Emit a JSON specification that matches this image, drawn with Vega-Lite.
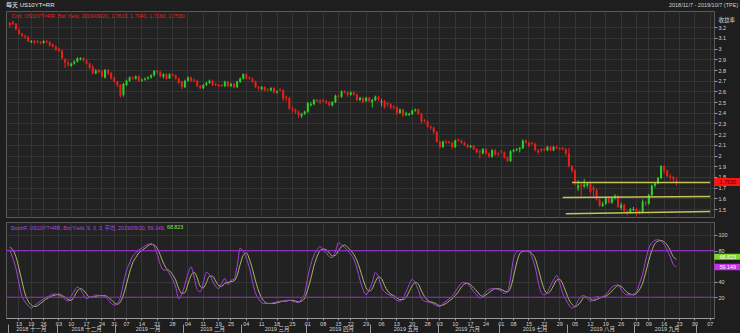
{
  "$schema": "https://vega.github.io/schema/vega-lite/v6.json",
  "background": "#1e1e1e",
  "padding": {"left": 5, "top": 2, "right": 0, "bottom": 0},
  "params": [{"name": "days", "value": ["2018-11-07","2018-11-08","2018-11-09","2018-11-13","2018-11-14","2018-11-15","2018-11-16","2018-11-19","2018-11-20","2018-11-21","2018-11-23","2018-11-26","2018-11-27","2018-11-28","2018-11-29","2018-11-30","2018-12-03","2018-12-04","2018-12-06","2018-12-07","2018-12-10","2018-12-11","2018-12-12","2018-12-13","2018-12-14","2018-12-17","2018-12-18","2018-12-19","2018-12-20","2018-12-21","2018-12-24","2018-12-26","2018-12-27","2018-12-28","2018-12-31","2019-01-02","2019-01-03","2019-01-04","2019-01-07","2019-01-08","2019-01-09","2019-01-10","2019-01-11","2019-01-14","2019-01-15","2019-01-16","2019-01-17","2019-01-18","2019-01-21","2019-01-22","2019-01-23","2019-01-24","2019-01-25","2019-01-28","2019-01-29","2019-01-30","2019-01-31","2019-02-01","2019-02-04","2019-02-05","2019-02-06","2019-02-07","2019-02-08","2019-02-11","2019-02-12","2019-02-13","2019-02-14","2019-02-15","2019-02-19","2019-02-20","2019-02-21","2019-02-22","2019-02-25","2019-02-26","2019-02-27","2019-02-28","2019-03-01","2019-03-04","2019-03-05","2019-03-06","2019-03-07","2019-03-08","2019-03-11","2019-03-12","2019-03-13","2019-03-14","2019-03-15","2019-03-18","2019-03-19","2019-03-20","2019-03-21","2019-03-22","2019-03-25","2019-03-26","2019-03-27","2019-03-28","2019-03-29","2019-04-01","2019-04-02","2019-04-03","2019-04-04","2019-04-05","2019-04-08","2019-04-09","2019-04-10","2019-04-11","2019-04-12","2019-04-15","2019-04-16","2019-04-17","2019-04-18","2019-04-22","2019-04-23","2019-04-24","2019-04-25","2019-04-26","2019-04-29","2019-04-30","2019-05-01","2019-05-02","2019-05-03","2019-05-06","2019-05-07","2019-05-08","2019-05-09","2019-05-10","2019-05-13","2019-05-14","2019-05-15","2019-05-16","2019-05-17","2019-05-20","2019-05-21","2019-05-22","2019-05-23","2019-05-24","2019-05-28","2019-05-29","2019-05-30","2019-05-31","2019-06-03","2019-06-04","2019-06-05","2019-06-06","2019-06-07","2019-06-10","2019-06-11","2019-06-12","2019-06-13","2019-06-14","2019-06-17","2019-06-18","2019-06-19","2019-06-20","2019-06-21","2019-06-24","2019-06-25","2019-06-26","2019-06-27","2019-06-28","2019-07-01","2019-07-02","2019-07-03","2019-07-05","2019-07-08","2019-07-09","2019-07-10","2019-07-11","2019-07-12","2019-07-15","2019-07-16","2019-07-17","2019-07-18","2019-07-19","2019-07-22","2019-07-23","2019-07-24","2019-07-25","2019-07-26","2019-07-29","2019-07-30","2019-07-31","2019-08-01","2019-08-02","2019-08-05","2019-08-06","2019-08-07","2019-08-08","2019-08-09","2019-08-12","2019-08-13","2019-08-14","2019-08-15","2019-08-16","2019-08-19","2019-08-20","2019-08-21","2019-08-22","2019-08-23","2019-08-26","2019-08-27","2019-08-28","2019-08-29","2019-08-30","2019-09-03","2019-09-04","2019-09-05","2019-09-06","2019-09-09","2019-09-10","2019-09-11","2019-09-12","2019-09-13","2019-09-16","2019-09-17","2019-09-18","2019-09-19","2019-09-20","2019-09-23","2019-09-24","2019-09-25","2019-09-26","2019-09-27","2019-09-30","2019-10-01","2019-10-02","2019-10-03","2019-10-04","2019-10-07"]}],
  "title": {"text": "每天 US10YT=RR", "anchor": "start", "frame": "group", "fontSize": 6, "color": "#e6e6e6", "offset": -6},
  "spacing": 3,
  "datasets": {
    "candles": [
      {"date":"2018-11-07","o":3.24,"h":3.25,"l":3.2,"c":3.22},
      {"date":"2018-11-08","o":3.25,"h":3.26,"l":3.22,"c":3.23},
      {"date":"2018-11-09","o":3.23,"h":3.24,"l":3.17,"c":3.18},
      {"date":"2018-11-13","o":3.17,"h":3.19,"l":3.13,"c":3.14},
      {"date":"2018-11-14","o":3.14,"h":3.15,"l":3.11,"c":3.12},
      {"date":"2018-11-15","o":3.12,"h":3.13,"l":3.09,"c":3.11},
      {"date":"2018-11-16","o":3.11,"h":3.12,"l":3.06,"c":3.07},
      {"date":"2018-11-19","o":3.06,"h":3.08,"l":3.05,"c":3.07},
      {"date":"2018-11-20","o":3.07,"h":3.08,"l":3.04,"c":3.06},
      {"date":"2018-11-21","o":3.07,"h":3.08,"l":3.05,"c":3.06},
      {"date":"2018-11-23","o":3.06,"h":3.07,"l":3.04,"c":3.05},
      {"date":"2018-11-26","o":3.05,"h":3.08,"l":3.05,"c":3.07},
      {"date":"2018-11-27","o":3.07,"h":3.08,"l":3.05,"c":3.06},
      {"date":"2018-11-28","o":3.06,"h":3.07,"l":3.02,"c":3.03},
      {"date":"2018-11-29","o":3.04,"h":3.05,"l":3.01,"c":3.02},
      {"date":"2018-11-30","o":3.02,"h":3.03,"l":2.98,"c":2.99},
      {"date":"2018-12-03","o":3.0,"h":3.01,"l":2.97,"c":2.98},
      {"date":"2018-12-04","o":2.98,"h":2.99,"l":2.9,"c":2.91},
      {"date":"2018-12-06","o":2.9,"h":2.91,"l":2.82,"c":2.87},
      {"date":"2018-12-07","o":2.87,"h":2.89,"l":2.83,"c":2.85},
      {"date":"2018-12-10","o":2.84,"h":2.87,"l":2.83,"c":2.86},
      {"date":"2018-12-11","o":2.86,"h":2.89,"l":2.85,"c":2.88},
      {"date":"2018-12-12","o":2.88,"h":2.92,"l":2.87,"c":2.91},
      {"date":"2018-12-13","o":2.9,"h":2.92,"l":2.89,"c":2.91},
      {"date":"2018-12-14","o":2.91,"h":2.92,"l":2.88,"c":2.89},
      {"date":"2018-12-17","o":2.89,"h":2.9,"l":2.85,"c":2.86},
      {"date":"2018-12-18","o":2.86,"h":2.87,"l":2.81,"c":2.82},
      {"date":"2018-12-19","o":2.83,"h":2.85,"l":2.76,"c":2.77},
      {"date":"2018-12-20","o":2.77,"h":2.81,"l":2.76,"c":2.79},
      {"date":"2018-12-21","o":2.8,"h":2.81,"l":2.77,"c":2.78},
      {"date":"2018-12-24","o":2.79,"h":2.8,"l":2.73,"c":2.74},
      {"date":"2018-12-26","o":2.73,"h":2.81,"l":2.72,"c":2.8},
      {"date":"2018-12-27","o":2.8,"h":2.81,"l":2.75,"c":2.77},
      {"date":"2018-12-28","o":2.77,"h":2.78,"l":2.71,"c":2.72},
      {"date":"2018-12-31","o":2.73,"h":2.74,"l":2.68,"c":2.69},
      {"date":"2019-01-02","o":2.69,"h":2.7,"l":2.64,"c":2.66},
      {"date":"2019-01-03","o":2.66,"h":2.67,"l":2.54,"c":2.56},
      {"date":"2019-01-04","o":2.57,"h":2.68,"l":2.55,"c":2.67},
      {"date":"2019-01-07","o":2.66,"h":2.71,"l":2.65,"c":2.7},
      {"date":"2019-01-08","o":2.7,"h":2.74,"l":2.69,"c":2.73},
      {"date":"2019-01-09","o":2.73,"h":2.74,"l":2.71,"c":2.72},
      {"date":"2019-01-10","o":2.72,"h":2.75,"l":2.71,"c":2.74},
      {"date":"2019-01-11","o":2.74,"h":2.75,"l":2.69,"c":2.7},
      {"date":"2019-01-14","o":2.7,"h":2.72,"l":2.69,"c":2.71},
      {"date":"2019-01-15","o":2.71,"h":2.73,"l":2.7,"c":2.72},
      {"date":"2019-01-16","o":2.72,"h":2.74,"l":2.71,"c":2.73},
      {"date":"2019-01-17","o":2.73,"h":2.76,"l":2.72,"c":2.75},
      {"date":"2019-01-18","o":2.75,"h":2.8,"l":2.74,"c":2.79},
      {"date":"2019-01-21","o":2.79,"h":2.8,"l":2.76,"c":2.78},
      {"date":"2019-01-22","o":2.78,"h":2.79,"l":2.73,"c":2.74},
      {"date":"2019-01-23","o":2.74,"h":2.77,"l":2.72,"c":2.76},
      {"date":"2019-01-24","o":2.76,"h":2.77,"l":2.71,"c":2.72},
      {"date":"2019-01-25","o":2.72,"h":2.77,"l":2.72,"c":2.76},
      {"date":"2019-01-28","o":2.76,"h":2.77,"l":2.74,"c":2.75},
      {"date":"2019-01-29","o":2.75,"h":2.76,"l":2.71,"c":2.72},
      {"date":"2019-01-30","o":2.72,"h":2.73,"l":2.67,"c":2.68},
      {"date":"2019-01-31","o":2.69,"h":2.7,"l":2.62,"c":2.64},
      {"date":"2019-02-01","o":2.64,"h":2.71,"l":2.63,"c":2.7},
      {"date":"2019-02-04","o":2.7,"h":2.74,"l":2.69,"c":2.73},
      {"date":"2019-02-05","o":2.73,"h":2.74,"l":2.69,"c":2.7},
      {"date":"2019-02-06","o":2.71,"h":2.72,"l":2.69,"c":2.7},
      {"date":"2019-02-07","o":2.7,"h":2.71,"l":2.64,"c":2.65},
      {"date":"2019-02-08","o":2.65,"h":2.66,"l":2.62,"c":2.63},
      {"date":"2019-02-11","o":2.63,"h":2.67,"l":2.62,"c":2.66},
      {"date":"2019-02-12","o":2.66,"h":2.69,"l":2.65,"c":2.68},
      {"date":"2019-02-13","o":2.68,"h":2.71,"l":2.67,"c":2.7},
      {"date":"2019-02-14","o":2.7,"h":2.71,"l":2.65,"c":2.66},
      {"date":"2019-02-15","o":2.67,"h":2.68,"l":2.65,"c":2.66},
      {"date":"2019-02-19","o":2.66,"h":2.67,"l":2.64,"c":2.65},
      {"date":"2019-02-20","o":2.66,"h":2.67,"l":2.64,"c":2.65},
      {"date":"2019-02-21","o":2.65,"h":2.7,"l":2.64,"c":2.69},
      {"date":"2019-02-22","o":2.69,"h":2.7,"l":2.64,"c":2.65},
      {"date":"2019-02-25","o":2.65,"h":2.68,"l":2.64,"c":2.67},
      {"date":"2019-02-26","o":2.67,"h":2.68,"l":2.63,"c":2.64},
      {"date":"2019-02-27","o":2.64,"h":2.7,"l":2.63,"c":2.69},
      {"date":"2019-02-28","o":2.69,"h":2.73,"l":2.68,"c":2.72},
      {"date":"2019-03-01","o":2.72,"h":2.77,"l":2.71,"c":2.76},
      {"date":"2019-03-04","o":2.76,"h":2.77,"l":2.71,"c":2.72},
      {"date":"2019-03-05","o":2.73,"h":2.74,"l":2.71,"c":2.72},
      {"date":"2019-03-06","o":2.72,"h":2.73,"l":2.68,"c":2.69},
      {"date":"2019-03-07","o":2.69,"h":2.7,"l":2.63,"c":2.64},
      {"date":"2019-03-08","o":2.64,"h":2.65,"l":2.61,"c":2.63},
      {"date":"2019-03-11","o":2.62,"h":2.65,"l":2.61,"c":2.64},
      {"date":"2019-03-12","o":2.64,"h":2.65,"l":2.6,"c":2.61},
      {"date":"2019-03-13","o":2.62,"h":2.63,"l":2.6,"c":2.61},
      {"date":"2019-03-14","o":2.61,"h":2.64,"l":2.6,"c":2.63},
      {"date":"2019-03-15","o":2.63,"h":2.64,"l":2.58,"c":2.59},
      {"date":"2019-03-18","o":2.59,"h":2.61,"l":2.58,"c":2.6},
      {"date":"2019-03-19","o":2.62,"h":2.63,"l":2.6,"c":2.61},
      {"date":"2019-03-20","o":2.61,"h":2.62,"l":2.51,"c":2.53},
      {"date":"2019-03-21","o":2.55,"h":2.56,"l":2.51,"c":2.54},
      {"date":"2019-03-22","o":2.54,"h":2.55,"l":2.43,"c":2.44},
      {"date":"2019-03-25","o":2.44,"h":2.46,"l":2.4,"c":2.43},
      {"date":"2019-03-26","o":2.43,"h":2.44,"l":2.39,"c":2.41},
      {"date":"2019-03-27","o":2.41,"h":2.42,"l":2.35,"c":2.38},
      {"date":"2019-03-28","o":2.37,"h":2.4,"l":2.35,"c":2.39},
      {"date":"2019-03-29","o":2.39,"h":2.42,"l":2.38,"c":2.41},
      {"date":"2019-04-01","o":2.41,"h":2.5,"l":2.4,"c":2.49},
      {"date":"2019-04-02","o":2.47,"h":2.5,"l":2.46,"c":2.48},
      {"date":"2019-04-03","o":2.48,"h":2.53,"l":2.47,"c":2.52},
      {"date":"2019-04-04","o":2.52,"h":2.53,"l":2.5,"c":2.51},
      {"date":"2019-04-05","o":2.51,"h":2.53,"l":2.48,"c":2.5},
      {"date":"2019-04-08","o":2.52,"h":2.53,"l":2.5,"c":2.51},
      {"date":"2019-04-09","o":2.51,"h":2.52,"l":2.48,"c":2.5},
      {"date":"2019-04-10","o":2.5,"h":2.51,"l":2.46,"c":2.47},
      {"date":"2019-04-11","o":2.47,"h":2.51,"l":2.46,"c":2.5},
      {"date":"2019-04-12","o":2.5,"h":2.57,"l":2.49,"c":2.56},
      {"date":"2019-04-15","o":2.56,"h":2.57,"l":2.54,"c":2.55},
      {"date":"2019-04-16","o":2.55,"h":2.61,"l":2.54,"c":2.6},
      {"date":"2019-04-17","o":2.6,"h":2.61,"l":2.58,"c":2.59},
      {"date":"2019-04-18","o":2.59,"h":2.6,"l":2.55,"c":2.57},
      {"date":"2019-04-22","o":2.57,"h":2.6,"l":2.56,"c":2.59},
      {"date":"2019-04-23","o":2.59,"h":2.6,"l":2.56,"c":2.57},
      {"date":"2019-04-24","o":2.57,"h":2.58,"l":2.51,"c":2.52},
      {"date":"2019-04-25","o":2.52,"h":2.55,"l":2.51,"c":2.54},
      {"date":"2019-04-26","o":2.54,"h":2.55,"l":2.49,"c":2.5},
      {"date":"2019-04-29","o":2.51,"h":2.55,"l":2.5,"c":2.54},
      {"date":"2019-04-30","o":2.54,"h":2.55,"l":2.5,"c":2.51},
      {"date":"2019-05-01","o":2.5,"h":2.53,"l":2.45,"c":2.52},
      {"date":"2019-05-02","o":2.52,"h":2.56,"l":2.51,"c":2.55},
      {"date":"2019-05-03","o":2.55,"h":2.56,"l":2.51,"c":2.53},
      {"date":"2019-05-06","o":2.5,"h":2.53,"l":2.46,"c":2.51},
      {"date":"2019-05-07","o":2.51,"h":2.52,"l":2.44,"c":2.45},
      {"date":"2019-05-08","o":2.49,"h":2.5,"l":2.46,"c":2.48},
      {"date":"2019-05-09","o":2.48,"h":2.49,"l":2.43,"c":2.45},
      {"date":"2019-05-10","o":2.46,"h":2.47,"l":2.43,"c":2.45},
      {"date":"2019-05-13","o":2.45,"h":2.46,"l":2.38,"c":2.4},
      {"date":"2019-05-14","o":2.4,"h":2.44,"l":2.39,"c":2.43},
      {"date":"2019-05-15","o":2.43,"h":2.44,"l":2.36,"c":2.38},
      {"date":"2019-05-16","o":2.38,"h":2.41,"l":2.37,"c":2.39},
      {"date":"2019-05-17","o":2.38,"h":2.4,"l":2.37,"c":2.39},
      {"date":"2019-05-20","o":2.39,"h":2.43,"l":2.38,"c":2.42},
      {"date":"2019-05-21","o":2.42,"h":2.44,"l":2.41,"c":2.43},
      {"date":"2019-05-22","o":2.43,"h":2.44,"l":2.38,"c":2.39},
      {"date":"2019-05-23","o":2.39,"h":2.4,"l":2.3,"c":2.32},
      {"date":"2019-05-24","o":2.33,"h":2.34,"l":2.31,"c":2.32},
      {"date":"2019-05-28","o":2.32,"h":2.33,"l":2.26,"c":2.27},
      {"date":"2019-05-29","o":2.27,"h":2.28,"l":2.24,"c":2.26},
      {"date":"2019-05-30","o":2.26,"h":2.27,"l":2.2,"c":2.22},
      {"date":"2019-05-31","o":2.22,"h":2.23,"l":2.12,"c":2.13},
      {"date":"2019-06-03","o":2.13,"h":2.14,"l":2.07,"c":2.08},
      {"date":"2019-06-04","o":2.08,"h":2.14,"l":2.07,"c":2.13},
      {"date":"2019-06-05","o":2.13,"h":2.15,"l":2.11,"c":2.12},
      {"date":"2019-06-06","o":2.13,"h":2.14,"l":2.11,"c":2.12},
      {"date":"2019-06-07","o":2.12,"h":2.13,"l":2.06,"c":2.08},
      {"date":"2019-06-10","o":2.08,"h":2.15,"l":2.07,"c":2.14},
      {"date":"2019-06-11","o":2.15,"h":2.16,"l":2.13,"c":2.14},
      {"date":"2019-06-12","o":2.14,"h":2.15,"l":2.11,"c":2.12},
      {"date":"2019-06-13","o":2.12,"h":2.13,"l":2.09,"c":2.1},
      {"date":"2019-06-14","o":2.1,"h":2.11,"l":2.07,"c":2.08},
      {"date":"2019-06-17","o":2.08,"h":2.1,"l":2.07,"c":2.09},
      {"date":"2019-06-18","o":2.09,"h":2.1,"l":2.05,"c":2.06},
      {"date":"2019-06-19","o":2.06,"h":2.07,"l":2.02,"c":2.03},
      {"date":"2019-06-20","o":2.04,"h":2.05,"l":1.97,"c":2.03},
      {"date":"2019-06-21","o":2.02,"h":2.07,"l":2.01,"c":2.06},
      {"date":"2019-06-24","o":2.06,"h":2.07,"l":2.01,"c":2.02},
      {"date":"2019-06-25","o":2.02,"h":2.03,"l":1.98,"c":1.99},
      {"date":"2019-06-26","o":1.99,"h":2.06,"l":1.98,"c":2.05},
      {"date":"2019-06-27","o":2.05,"h":2.06,"l":2.0,"c":2.01},
      {"date":"2019-06-28","o":2.02,"h":2.03,"l":2.0,"c":2.01},
      {"date":"2019-07-01","o":2.04,"h":2.05,"l":2.02,"c":2.03},
      {"date":"2019-07-02","o":2.03,"h":2.04,"l":1.97,"c":1.98},
      {"date":"2019-07-03","o":1.98,"h":1.99,"l":1.94,"c":1.95},
      {"date":"2019-07-05","o":1.95,"h":2.05,"l":1.94,"c":2.04},
      {"date":"2019-07-08","o":2.04,"h":2.06,"l":2.03,"c":2.05},
      {"date":"2019-07-09","o":2.05,"h":2.07,"l":2.04,"c":2.06},
      {"date":"2019-07-10","o":2.06,"h":2.08,"l":2.03,"c":2.07},
      {"date":"2019-07-11","o":2.07,"h":2.15,"l":2.06,"c":2.14},
      {"date":"2019-07-12","o":2.14,"h":2.15,"l":2.11,"c":2.12},
      {"date":"2019-07-15","o":2.12,"h":2.13,"l":2.08,"c":2.09},
      {"date":"2019-07-16","o":2.12,"h":2.13,"l":2.1,"c":2.11},
      {"date":"2019-07-17","o":2.11,"h":2.12,"l":2.04,"c":2.05},
      {"date":"2019-07-18","o":2.05,"h":2.06,"l":2.01,"c":2.03},
      {"date":"2019-07-19","o":2.06,"h":2.07,"l":2.03,"c":2.05},
      {"date":"2019-07-22","o":2.06,"h":2.07,"l":2.04,"c":2.05},
      {"date":"2019-07-23","o":2.05,"h":2.09,"l":2.04,"c":2.08},
      {"date":"2019-07-24","o":2.08,"h":2.09,"l":2.04,"c":2.05},
      {"date":"2019-07-25","o":2.05,"h":2.09,"l":2.04,"c":2.08},
      {"date":"2019-07-26","o":2.08,"h":2.09,"l":2.06,"c":2.07},
      {"date":"2019-07-29","o":2.07,"h":2.08,"l":2.05,"c":2.06},
      {"date":"2019-07-30","o":2.07,"h":2.08,"l":2.05,"c":2.06},
      {"date":"2019-07-31","o":2.06,"h":2.07,"l":2.0,"c":2.02},
      {"date":"2019-08-01","o":2.02,"h":2.07,"l":1.89,"c":1.9},
      {"date":"2019-08-02","o":1.9,"h":1.91,"l":1.84,"c":1.86},
      {"date":"2019-08-05","o":1.86,"h":1.87,"l":1.72,"c":1.75},
      {"date":"2019-08-06","o":1.7,"h":1.77,"l":1.67,"c":1.72},
      {"date":"2019-08-07","o":1.73,"h":1.75,"l":1.62,"c":1.71},
      {"date":"2019-08-08","o":1.71,"h":1.78,"l":1.7,"c":1.73},
      {"date":"2019-08-09","o":1.72,"h":1.75,"l":1.7,"c":1.74},
      {"date":"2019-08-12","o":1.74,"h":1.75,"l":1.64,"c":1.66},
      {"date":"2019-08-13","o":1.7,"h":1.72,"l":1.62,"c":1.68},
      {"date":"2019-08-14","o":1.68,"h":1.69,"l":1.58,"c":1.59},
      {"date":"2019-08-15","o":1.59,"h":1.6,"l":1.52,"c":1.53},
      {"date":"2019-08-16","o":1.53,"h":1.57,"l":1.52,"c":1.55},
      {"date":"2019-08-19","o":1.55,"h":1.61,"l":1.54,"c":1.6},
      {"date":"2019-08-20","o":1.6,"h":1.61,"l":1.55,"c":1.56},
      {"date":"2019-08-21","o":1.56,"h":1.61,"l":1.55,"c":1.6},
      {"date":"2019-08-22","o":1.6,"h":1.64,"l":1.59,"c":1.62},
      {"date":"2019-08-23","o":1.62,"h":1.63,"l":1.51,"c":1.52},
      {"date":"2019-08-26","o":1.51,"h":1.56,"l":1.49,"c":1.54},
      {"date":"2019-08-27","o":1.54,"h":1.55,"l":1.47,"c":1.48},
      {"date":"2019-08-28","o":1.48,"h":1.49,"l":1.44,"c":1.47},
      {"date":"2019-08-29","o":1.47,"h":1.51,"l":1.46,"c":1.5},
      {"date":"2019-08-30","o":1.49,"h":1.52,"l":1.48,"c":1.5},
      {"date":"2019-09-03","o":1.5,"h":1.51,"l":1.43,"c":1.47},
      {"date":"2019-09-04","o":1.48,"h":1.49,"l":1.45,"c":1.47},
      {"date":"2019-09-05","o":1.47,"h":1.59,"l":1.46,"c":1.57},
      {"date":"2019-09-06","o":1.56,"h":1.58,"l":1.53,"c":1.55},
      {"date":"2019-09-09","o":1.55,"h":1.64,"l":1.54,"c":1.63},
      {"date":"2019-09-10","o":1.63,"h":1.73,"l":1.62,"c":1.72},
      {"date":"2019-09-11","o":1.72,"h":1.75,"l":1.7,"c":1.74},
      {"date":"2019-09-12","o":1.74,"h":1.8,"l":1.73,"c":1.79},
      {"date":"2019-09-13","o":1.79,"h":1.91,"l":1.78,"c":1.9},
      {"date":"2019-09-16","o":1.9,"h":1.91,"l":1.83,"c":1.86},
      {"date":"2019-09-17","o":1.86,"h":1.87,"l":1.8,"c":1.81},
      {"date":"2019-09-18","o":1.81,"h":1.83,"l":1.77,"c":1.8},
      {"date":"2019-09-19","o":1.8,"h":1.81,"l":1.76,"c":1.78},
      {"date":"2019-09-20","o":1.761,"h":1.794,"l":1.716,"c":1.753}
    ],
    "stoch": [
      {"date":"2018-11-07","k":81,"d":84},{"date":"2018-11-08","k":70,"d":81},{"date":"2018-11-09","k":57,"d":72},
      {"date":"2018-11-13","k":38,"d":57},{"date":"2018-11-14","k":21,"d":40},{"date":"2018-11-15","k":14,"d":24},{"date":"2018-11-16","k":9,"d":15},
      {"date":"2018-11-19","k":6,"d":10},{"date":"2018-11-20","k":9,"d":8},{"date":"2018-11-21","k":12,"d":9},{"date":"2018-11-23","k":15,"d":12},
      {"date":"2018-11-26","k":18,"d":15},{"date":"2018-11-27","k":20,"d":18},{"date":"2018-11-28","k":22,"d":20},{"date":"2018-11-29","k":24,"d":22},{"date":"2018-11-30","k":24,"d":23},
      {"date":"2018-12-03","k":22,"d":24},{"date":"2018-12-04","k":21,"d":22},{"date":"2018-12-06","k":17,"d":20},{"date":"2018-12-07","k":15,"d":17},
      {"date":"2018-12-10","k":21,"d":16},{"date":"2018-12-11","k":28,"d":21},{"date":"2018-12-12","k":33,"d":28},{"date":"2018-12-13","k":30,"d":31},{"date":"2018-12-14","k":23,"d":29},
      {"date":"2018-12-17","k":18,"d":24},{"date":"2018-12-18","k":20,"d":20},{"date":"2018-12-19","k":21,"d":20},{"date":"2018-12-20","k":23,"d":21},{"date":"2018-12-21","k":22,"d":22},
      {"date":"2018-12-24","k":22,"d":22},{"date":"2018-12-26","k":21,"d":22},{"date":"2018-12-27","k":17,"d":20},{"date":"2018-12-28","k":12,"d":17},
      {"date":"2018-12-31","k":10,"d":13},{"date":"2019-01-02","k":12,"d":11},{"date":"2019-01-03","k":20,"d":14},{"date":"2019-01-04","k":38,"d":23},
      {"date":"2019-01-07","k":54,"d":37},{"date":"2019-01-08","k":64,"d":52},{"date":"2019-01-09","k":73,"d":64},{"date":"2019-01-10","k":77,"d":71},{"date":"2019-01-11","k":81,"d":77},
      {"date":"2019-01-14","k":83,"d":80},{"date":"2019-01-15","k":86,"d":83},{"date":"2019-01-16","k":88,"d":86},{"date":"2019-01-17","k":89,"d":88},{"date":"2019-01-18","k":85,"d":87},
      {"date":"2019-01-21","k":75,"d":83},{"date":"2019-01-22","k":62,"d":74},{"date":"2019-01-23","k":55,"d":64},{"date":"2019-01-24","k":55,"d":57},{"date":"2019-01-25","k":50,"d":54},
      {"date":"2019-01-28","k":43,"d":49},{"date":"2019-01-29","k":33,"d":42},{"date":"2019-01-30","k":18,"d":31},{"date":"2019-01-31","k":24,"d":25},{"date":"2019-02-01","k":36,"d":26},
      {"date":"2019-02-04","k":50,"d":37},{"date":"2019-02-05","k":59,"d":48},{"date":"2019-02-06","k":46,"d":52},{"date":"2019-02-07","k":30,"d":45},{"date":"2019-02-08","k":27,"d":34},
      {"date":"2019-02-11","k":39,"d":32},{"date":"2019-02-12","k":52,"d":39},{"date":"2019-02-13","k":49,"d":47},{"date":"2019-02-14","k":41,"d":47},{"date":"2019-02-15","k":34,"d":41},
      {"date":"2019-02-19","k":31,"d":35},{"date":"2019-02-20","k":38,"d":34},{"date":"2019-02-21","k":44,"d":38},{"date":"2019-02-22","k":36,"d":39},
      {"date":"2019-02-25","k":42,"d":40},{"date":"2019-02-26","k":43,"d":41},{"date":"2019-02-27","k":60,"d":48},{"date":"2019-02-28","k":83,"d":62},{"date":"2019-03-01","k":79,"d":74},
      {"date":"2019-03-04","k":70,"d":77},{"date":"2019-03-05","k":58,"d":69},{"date":"2019-03-06","k":40,"d":56},{"date":"2019-03-07","k":25,"d":41},{"date":"2019-03-08","k":18,"d":28},
      {"date":"2019-03-11","k":13,"d":19},{"date":"2019-03-12","k":12,"d":14},{"date":"2019-03-13","k":12,"d":12},{"date":"2019-03-14","k":12,"d":12},{"date":"2019-03-15","k":13,"d":12},
      {"date":"2019-03-18","k":14,"d":13},{"date":"2019-03-19","k":15,"d":14},{"date":"2019-03-20","k":15,"d":15},{"date":"2019-03-21","k":16,"d":15},{"date":"2019-03-22","k":16,"d":16},
      {"date":"2019-03-25","k":15,"d":16},{"date":"2019-03-26","k":14,"d":15},{"date":"2019-03-27","k":13,"d":14},{"date":"2019-03-28","k":18,"d":15},{"date":"2019-03-29","k":25,"d":19},
      {"date":"2019-04-01","k":46,"d":30},{"date":"2019-04-02","k":62,"d":44},{"date":"2019-04-03","k":74,"d":60},{"date":"2019-04-04","k":81,"d":72},{"date":"2019-04-05","k":85,"d":80},
      {"date":"2019-04-08","k":81,"d":82},{"date":"2019-04-09","k":77,"d":81},{"date":"2019-04-10","k":72,"d":77},{"date":"2019-04-11","k":71,"d":73},{"date":"2019-04-12","k":79,"d":74},
      {"date":"2019-04-15","k":90,"d":80},{"date":"2019-04-16","k":87,"d":85},{"date":"2019-04-17","k":84,"d":87},{"date":"2019-04-18","k":80,"d":84},
      {"date":"2019-04-22","k":75,"d":80},{"date":"2019-04-23","k":69,"d":75},{"date":"2019-04-24","k":57,"d":67},{"date":"2019-04-25","k":42,"d":56},{"date":"2019-04-26","k":30,"d":43},
      {"date":"2019-04-29","k":23,"d":32},{"date":"2019-04-30","k":30,"d":28},{"date":"2019-05-01","k":39,"d":31},{"date":"2019-05-02","k":52,"d":40},{"date":"2019-05-03","k":46,"d":46},
      {"date":"2019-05-06","k":33,"d":44},{"date":"2019-05-07","k":27,"d":35},{"date":"2019-05-08","k":24,"d":28},{"date":"2019-05-09","k":22,"d":24},{"date":"2019-05-10","k":19,"d":22},
      {"date":"2019-05-13","k":16,"d":19},{"date":"2019-05-14","k":15,"d":17},{"date":"2019-05-15","k":19,"d":17},{"date":"2019-05-16","k":27,"d":20},{"date":"2019-05-17","k":36,"d":27},
      {"date":"2019-05-20","k":43,"d":35},{"date":"2019-05-21","k":38,"d":39},{"date":"2019-05-22","k":29,"d":37},{"date":"2019-05-23","k":18,"d":28},{"date":"2019-05-24","k":15,"d":21},
      {"date":"2019-05-28","k":14,"d":16},{"date":"2019-05-29","k":13,"d":14},{"date":"2019-05-30","k":11,"d":13},{"date":"2019-05-31","k":9,"d":11},
      {"date":"2019-06-03","k":8,"d":9},{"date":"2019-06-04","k":12,"d":10},{"date":"2019-06-05","k":15,"d":12},{"date":"2019-06-06","k":18,"d":15},{"date":"2019-06-07","k":21,"d":18},
      {"date":"2019-06-10","k":27,"d":22},{"date":"2019-06-11","k":33,"d":27},{"date":"2019-06-12","k":38,"d":33},{"date":"2019-06-13","k":39,"d":37},{"date":"2019-06-14","k":37,"d":38},
      {"date":"2019-06-17","k":33,"d":36},{"date":"2019-06-18","k":27,"d":32},{"date":"2019-06-19","k":23,"d":28},{"date":"2019-06-20","k":19,"d":23},{"date":"2019-06-21","k":22,"d":21},
      {"date":"2019-06-24","k":27,"d":23},{"date":"2019-06-25","k":30,"d":26},{"date":"2019-06-26","k":31,"d":29},{"date":"2019-06-27","k":31,"d":31},{"date":"2019-06-28","k":30,"d":31},
      {"date":"2019-07-01","k":28,"d":30},{"date":"2019-07-02","k":25,"d":28},{"date":"2019-07-03","k":27,"d":27},{"date":"2019-07-05","k":45,"d":32},
      {"date":"2019-07-08","k":70,"d":47},{"date":"2019-07-09","k":78,"d":64},{"date":"2019-07-10","k":80,"d":76},{"date":"2019-07-11","k":80,"d":79},{"date":"2019-07-12","k":79,"d":80},
      {"date":"2019-07-15","k":79,"d":79},{"date":"2019-07-16","k":71,"d":76},{"date":"2019-07-17","k":59,"d":70},{"date":"2019-07-18","k":40,"d":57},{"date":"2019-07-19","k":26,"d":42},
      {"date":"2019-07-22","k":23,"d":30},{"date":"2019-07-23","k":27,"d":25},{"date":"2019-07-24","k":35,"d":28},{"date":"2019-07-25","k":42,"d":35},{"date":"2019-07-26","k":48,"d":42},
      {"date":"2019-07-29","k":38,"d":43},{"date":"2019-07-30","k":25,"d":37},{"date":"2019-07-31","k":17,"d":27},{"date":"2019-08-01","k":10,"d":17},{"date":"2019-08-02","k":6,"d":11},
      {"date":"2019-08-05","k":8,"d":8},{"date":"2019-08-06","k":16,"d":10},{"date":"2019-08-07","k":21,"d":15},{"date":"2019-08-08","k":22,"d":20},{"date":"2019-08-09","k":18,"d":20},
      {"date":"2019-08-12","k":15,"d":18},{"date":"2019-08-13","k":16,"d":16},{"date":"2019-08-14","k":21,"d":17},{"date":"2019-08-15","k":20,"d":19},{"date":"2019-08-16","k":21,"d":20},
      {"date":"2019-08-19","k":23,"d":21},{"date":"2019-08-20","k":28,"d":24},{"date":"2019-08-21","k":33,"d":28},{"date":"2019-08-22","k":35,"d":32},{"date":"2019-08-23","k":36,"d":35},
      {"date":"2019-08-26","k":30,"d":34},{"date":"2019-08-27","k":25,"d":30},{"date":"2019-08-28","k":23,"d":26},{"date":"2019-08-29","k":23,"d":24},{"date":"2019-08-30","k":24,"d":23},
      {"date":"2019-09-03","k":27,"d":25},{"date":"2019-09-04","k":38,"d":30},{"date":"2019-09-05","k":50,"d":38},{"date":"2019-09-06","k":68,"d":52},
      {"date":"2019-09-09","k":83,"d":67},{"date":"2019-09-10","k":90,"d":80},{"date":"2019-09-11","k":93,"d":89},{"date":"2019-09-12","k":94,"d":92},{"date":"2019-09-13","k":92,"d":93},
      {"date":"2019-09-16","k":88,"d":91},{"date":"2019-09-17","k":80,"d":87},{"date":"2019-09-18","k":72,"d":80},{"date":"2019-09-19","k":62,"d":72},{"date":"2019-09-20","k":59.149,"d":68.823}
    ],
    "lines": [
      {"start":"2019-08-02","end":"2019-10-07","p1":1.748,"p2":1.748},
      {"start":"2019-07-30","end":"2019-10-07","p1":1.607,"p2":1.617},
      {"start":"2019-07-31","end":"2019-10-07","p1":1.455,"p2":1.478}
    ],
    "levels": [{"lvl": 80}, {"lvl": 20}]
  },
  "vconcat": [
    {
      "width": 708,
      "height": 206,
      "title": {"text": "2018/11/7 - 2019/10/7 (TPE)", "anchor": "end", "frame": "bounds", "fontSize": 5.5, "color": "#d0d0d0", "offset": 3, "dx": -3},
      "data": {"name": "candles"},
      "layer": [
        {
          "mark": {"type": "rule", "strokeWidth": 1},
          "encoding": {
            "x": {"field": "date", "type": "ordinal", "scale": {"type": "band", "domain": {"expr": "days"}, "paddingInner": 0, "paddingOuter": 0.73},
                  "axis": {"orient": "bottom", "values": ["2018-11-13","2018-11-19","2018-11-26","2018-12-03","2018-12-10","2018-12-17","2018-12-24","2018-12-31","2019-01-07","2019-01-14","2019-01-21","2019-01-28","2019-02-04","2019-02-11","2019-02-19","2019-02-25","2019-03-04","2019-03-11","2019-03-18","2019-03-25","2019-04-01","2019-04-08","2019-04-15","2019-04-22","2019-04-29","2019-05-06","2019-05-13","2019-05-20","2019-05-28","2019-06-03","2019-06-10","2019-06-17","2019-06-24","2019-07-01","2019-07-08","2019-07-15","2019-07-22","2019-07-29","2019-08-05","2019-08-12","2019-08-19","2019-08-26","2019-09-03","2019-09-09","2019-09-16","2019-09-23","2019-09-30","2019-10-07"], "labels": false, "ticks": false, "domain": false, "grid": true, "title": null}},
            "y": {"field": "l", "type": "quantitative", "scale": {"domain": [1.4255, 3.352], "nice": false, "zero": false},
                  "axis": {"orient": "right", "values": [1.5,1.6,1.7,1.8,1.9,2,2.1,2.2,2.3,2.4,2.5,2.6,2.7,2.8,2.9,3,3.1,3.2], "tickCount": 100, "format": ".1~f", "labelOverlap": false, "grid": true, "domain": false, "tickSize": 3, "labelPadding": 1, "title": "收益率", "titleAngle": 0, "titleAlign": "left", "titleBaseline": "middle", "titleX": 4, "titleY": 8}},
            "y2": {"field": "h"},
            "color": {"condition": {"test": "datum.c >= datum.o", "value": "#2bd12b"}, "value": "#e8201c"}
          }
        },
        {
          "mark": {"type": "bar", "width": 2},
          "encoding": {
            "x": {"field": "date", "type": "ordinal", "axis": {"orient": "top", "labels": false, "ticks": false, "domain": false, "grid": false, "title": "Cnd, US10YT=RR, Bid Yield, 2019/09/20, 1.7610, 1.7940, 1.7160, 1.7530", "titleColor": "#e82020", "titleFontSize": 5.3, "titleAlign": "left", "titleBaseline": "middle", "titleX": 5, "titleY": 4.5}},
            "y": {"field": "o", "type": "quantitative"},
            "y2": {"field": "c"},
            "color": {"condition": {"test": "datum.c >= datum.o", "value": "#2bd12b"}, "value": "#e8201c"}
          }
        },
        {
          "data": {"name": "lines"},
          "mark": {"type": "rule", "color": "#c4c454", "strokeWidth": 1.5},
          "encoding": {
            "x": {"field": "start", "type": "ordinal", "axis": null},
            "x2": {"field": "end"},
            "y": {"field": "p1", "type": "quantitative"},
            "y2": {"field": "p2"}
          }
        },
        {
          "transform": [{"filter": "datum.date == '2019-09-20'"}],
          "mark": {"type": "rect", "color": "#ff1414", "xOffset": 4, "x2Offset": 31, "yOffset": -4, "y2Offset": 4},
          "encoding": {
            "x": {"datum": "2019-10-07", "type": "ordinal", "axis": null},
            "x2": {"datum": "2019-10-07"},
            "y": {"field": "c", "type": "quantitative"},
            "y2": {"field": "c"}
          }
        },
        {
          "transform": [{"filter": "datum.date == '2019-09-20'"}],
          "mark": {"type": "text", "dx": 17.5, "fontSize": 5.5, "color": "#3a0000", "baseline": "middle"},
          "encoding": {
            "x": {"datum": "2019-10-07", "type": "ordinal", "axis": null},
            "y": {"field": "c", "type": "quantitative"},
            "text": {"field": "c", "type": "quantitative", "format": ".4f"}
          }
        }
      ],
      "resolve": {"axis": {"x": "independent"}}
    },
    {
      "width": 708,
      "height": 96,
      "title": {"text": "68.823", "anchor": "start", "frame": "group", "fontSize": 5.3, "color": "#7cf03c", "offset": -8.5, "dx": 161},
      "data": {"name": "stoch"},
      "layer": [
        {
          "mark": {"type": "line", "color": "#a9b866", "strokeWidth": 1, "interpolate": "monotone"},
          "encoding": {
            "x": {"field": "date", "type": "ordinal", "scale": {"type": "band", "domain": {"expr": "days"}, "paddingInner": 0, "paddingOuter": 0.73},
                  "axis": {"orient": "bottom", "values": ["2018-11-13","2018-11-19","2018-11-26","2018-12-03","2018-12-10","2018-12-17","2018-12-24","2018-12-31","2019-01-07","2019-01-14","2019-01-21","2019-01-28","2019-02-04","2019-02-11","2019-02-19","2019-02-25","2019-03-04","2019-03-11","2019-03-18","2019-03-25","2019-04-01","2019-04-08","2019-04-15","2019-04-22","2019-04-29","2019-05-06","2019-05-13","2019-05-20","2019-05-28","2019-06-03","2019-06-10","2019-06-17","2019-06-24","2019-07-01","2019-07-08","2019-07-15","2019-07-22","2019-07-29","2019-08-05","2019-08-12","2019-08-19","2019-08-26","2019-09-03","2019-09-09","2019-09-16","2019-09-23","2019-09-30","2019-10-07"], "labelExpr": "slice(datum.value, 8, 10)", "labelAngle": 0, "labelOverlap": false, "grid": true, "tickSize": 2, "labelPadding": 1, "title": null}},
            "y": {"field": "d", "type": "quantitative", "scale": {"domain": [-6.7, 116.7], "nice": false, "zero": false},
                  "axis": {"orient": "right", "values": [20, 40, 80, 100], "tickCount": 100, "labelOverlap": false, "grid": true, "domain": false, "tickSize": 3, "labelPadding": 1, "title": null}}
          }
        },
        {
          "mark": {"type": "line", "color": "#a642e0", "strokeWidth": 1, "interpolate": "monotone"},
          "encoding": {
            "x": {"field": "date", "type": "ordinal",
                  "axis": {"orient": "bottom", "offset": 6, "values": ["2018-11-19","2018-12-17","2019-01-16","2019-02-14","2019-03-18","2019-04-16","2019-05-16","2019-06-14","2019-07-17","2019-08-16","2019-09-17"], "labelExpr": "slice(datum.value, 0, 4) + ' ' + ['一月','二月','三月','四月','五月','六月','七月','八月','九月','十月','十一月','十二月'][toNumber(slice(datum.value, 5, 7)) - 1]", "labelAngle": 0, "labelOverlap": false, "domain": false, "ticks": false, "grid": false, "labelPadding": 2.5, "title": null}},
            "y": {"field": "k", "type": "quantitative"}
          }
        },
        {
          "data": {"name": "levels"},
          "mark": {"type": "rule", "color": "#9030c4", "strokeWidth": 1},
          "encoding": {"y": {"field": "lvl", "type": "quantitative"}}
        },
        {
          "transform": [{"filter": "datum.date == '2019-09-20'"}],
          "mark": {"type": "rect", "color": "#c232e6", "xOffset": 4, "x2Offset": 31, "yOffset": -3, "y2Offset": 3.5},
          "encoding": {
            "x": {"datum": "2019-10-07", "type": "ordinal",
                  "axis": {"orient": "bottom", "offset": 6, "values": ["2018-11-07","2018-12-03","2019-01-02","2019-02-01","2019-03-01","2019-04-01","2019-05-01","2019-06-03","2019-07-01","2019-08-01","2019-09-03","2019-10-01"], "bandPosition": 0, "labels": false, "ticks": true, "tickSize": 10, "domain": false, "grid": false, "title": null}},
            "x2": {"datum": "2019-10-07"},
            "y": {"field": "k", "type": "quantitative"},
            "y2": {"field": "k"}
          }
        },
        {
          "transform": [{"filter": "datum.date == '2019-09-20'"}],
          "mark": {"type": "text", "dx": 17.5, "dy": 0.3, "fontSize": 5.3, "color": "#ffffff", "baseline": "middle"},
          "encoding": {
            "x": {"datum": "2019-10-07", "type": "ordinal",
                  "axis": {"orient": "top", "labels": false, "ticks": false, "domain": false, "grid": false, "title": "StochF, US10YT=RR, Bid Yield, 9, 3, 3, 平均, 2019/09/20, 59.149,", "titleColor": "#b048e0", "titleFontSize": 5.3, "titleAlign": "left", "titleBaseline": "middle", "titleX": 4, "titleY": 5}},
            "y": {"field": "k", "type": "quantitative"},
            "text": {"field": "k", "type": "quantitative", "format": ".3f"}
          }
        },
        {
          "transform": [{"filter": "datum.date == '2019-09-20'"}],
          "mark": {"type": "rect", "color": "#7ed628", "xOffset": 4, "x2Offset": 31, "yOffset": -5.5, "y2Offset": 0.5},
          "encoding": {
            "x": {"datum": "2019-10-07", "type": "ordinal", "axis": null},
            "x2": {"datum": "2019-10-07"},
            "y": {"field": "d", "type": "quantitative"},
            "y2": {"field": "d"}
          }
        },
        {
          "transform": [{"filter": "datum.date == '2019-09-20'"}],
          "mark": {"type": "text", "dx": 17.5, "dy": -2.5, "fontSize": 5.3, "color": "#ffffff", "baseline": "middle"},
          "encoding": {
            "x": {"datum": "2019-10-07", "type": "ordinal", "axis": null},
            "y": {"field": "d", "type": "quantitative"},
            "text": {"field": "d", "type": "quantitative", "format": ".3f"}
          }
        }
      ],
      "resolve": {"axis": {"x": "independent"}}
    }
  ],
  "config": {
    "font": "Liberation Sans, Noto Sans CJK SC",
    "view": {"stroke": "#5a5a5a", "fill": "#222222"},
    "axis": {"labelFont": "Liberation Sans, Noto Sans CJK SC", "labelFontSize": 5.5, "labelColor": "#d4d4d4", "titleFont": "Liberation Sans, Noto Sans CJK SC", "titleFontWeight": "normal", "titleFontSize": 5.5, "titleColor": "#d4d4d4", "gridColor": "#353535", "gridWidth": 1, "tickColor": "#9a9a9a", "domainColor": "#9a9a9a"},
    "title": {"font": "Liberation Sans, Noto Sans CJK SC", "fontWeight": "normal"},
    "text": {"font": "Liberation Sans, Noto Sans CJK SC"}
  }
}
